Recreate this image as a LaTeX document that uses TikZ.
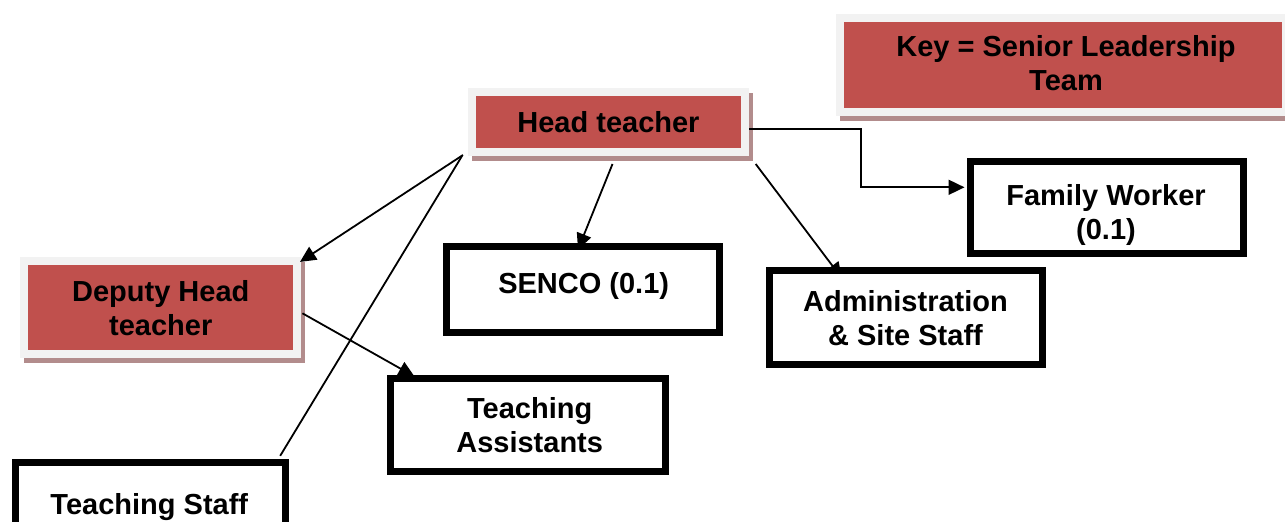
\documentclass[tikz,border=0pt]{standalone}
\usepackage{fontspec}
\setmainfont{Liberation Sans}
\usetikzlibrary{arrows.meta}
\pgfdeclarelayer{back}
\pgfdeclarelayer{mid}
\pgfsetlayers{back,mid,main}
\definecolor{sltred}{HTML}{C0504D}
\definecolor{sltframe}{HTML}{F2F2F2}
\definecolor{sltshadow}{RGB}{178,140,140}
\begin{document}
\begin{tikzpicture}[x=1pt,y=-1pt,
  slt/.style={fill=sltred, draw=sltframe, line width=8pt, inner sep=0pt,
    preaction={fill=sltshadow, draw=sltshadow, line width=8pt,
      transform canvas={xshift=4pt,yshift=-5pt}}},
  whitebox/.style={draw=black, fill=white, line width=7pt, inner sep=0pt},
  lbl/.style={font=\bfseries\fontsize{29}{34}\selectfont, align=center, anchor=north, inner sep=0pt},
  conn/.style={line width=1.8pt, black},
  arr/.style={conn, -{Triangle[length=16pt,width=15pt]}}]
\useasboundingbox (0,0) rectangle (1285,522);
\clip (0,0) rectangle (1285,522);

\begin{pgfonlayer}{back}
\fill[white] (0,0) rectangle (1285,522);
\node[slt, minimum width=273pt, minimum height=60pt] (head) at (608.5,122) {};
\node[slt, minimum width=273.5pt, minimum height=93.5pt] (deputy) at (160.7,307.7) {};
\node[slt, minimum width=446pt, minimum height=94pt] (key) at (1063,65) {};
\end{pgfonlayer}

\node[whitebox, minimum width=273pt, minimum height=86pt] (senco) at (583,289.5) {};
\node[whitebox, minimum width=273pt, minimum height=94pt] (admin) at (906,317.5) {};
\node[whitebox, minimum width=273pt, minimum height=92pt] (family) at (1107,207.5) {};
\node[whitebox, minimum width=275pt, minimum height=93pt] (ta) at (528,425) {};
\node[whitebox, minimum width=270pt, minimum height=93pt] (tstaff) at (150.5,509) {};

\begin{pgfonlayer}{mid}
\draw[conn] ([xshift=-6pt]head.south west) -- ([xshift=-8.8pt,yshift=3.2pt]tstaff.north east);
\draw[arr] ([xshift=6.7pt,yshift=-8pt]head.south east) -- ([xshift=-64pt,yshift=-11.5pt]admin.north);
\draw[arr] ([xshift=1pt,yshift=-5.6pt]deputy.east) -- ([xshift=27.5pt,yshift=-1.5pt]ta.north west);
\end{pgfonlayer}

\draw[arr] ([xshift=-5pt,yshift=1pt]head.south west) -- ([xshift=-1.5pt,yshift=-5pt]deputy.north east);
\draw[arr] ([xshift=4pt,yshift=-8pt]head.south) -- ([xshift=-5pt,yshift=-6.5pt]senco.north);
\draw[arr] ([yshift=-7pt]head.east) -- ++(112,0) |- ([xshift=-2.5pt,yshift=20.2pt]family.west);

\node[lbl] (keyT) at (1066,32.9) {\strut Key = Senior Leadership\\\strut Team};
\node[lbl] (headT) at (608.5,108.9) {\strut Head teacher};
\node[lbl] (deputyT) at (160.8,277.9) {\strut Deputy Head\\\strut teacher};
\node[lbl] (sencoT) at (583.7,269.5) {\strut SENCO (0.1)};
\node[lbl] (adminT) at (905.5,287.9) {\strut Administration\\\strut \& Site Staff};
\node[lbl] (familyT) at (1106,181.2) {\strut Family Worker\\\strut (0.1)};
\node[lbl] (taT) at (529.7,394.5) {\strut Teaching\\\strut Assistants};
\node[lbl] (tstaffT) at (149.3,490.2) {\strut Teaching Staff};
\end{tikzpicture}
\end{document}
